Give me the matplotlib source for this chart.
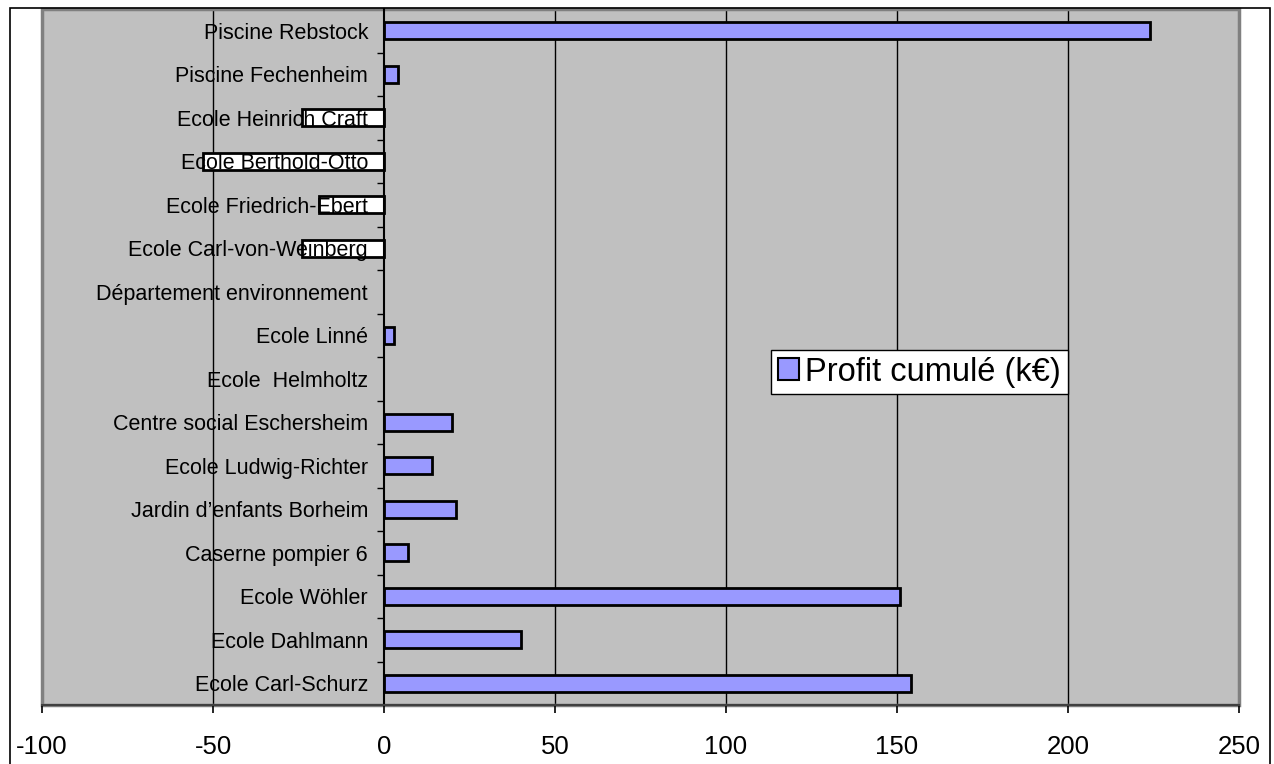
import numpy as np
import matplotlib.pyplot as plt
from matplotlib.patches import Rectangle

plt.rcParams['font.family'] = ['Liberation Sans', 'DejaVu Sans']

# Données (de bas en haut)
categories = [
    'Ecole Carl-Schurz', 'Ecole Dahlmann', 'Ecole Wöhler', 'Caserne pompier 6',
    'Jardin d\u2019enfants Borheim', 'Ecole Ludwig-Richter', 'Centre social Eschersheim',
    'Ecole  Helmholtz', 'Ecole Linné', 'Département environnement',
    'Ecole Carl-von-Weinberg', 'Ecole Friedrich-Ebert', 'Ecole Berthold-Otto',
    'Ecole Heinrich Craft', 'Piscine Fechenheim', 'Piscine Rebstock',
]
profit = [154, 40, 151, 7, 21, 14, 20, 0, 3, 0, -24, -19, -53, -24, 4, 224]
xticks = [-100, -50, 0, 50, 100, 150, 200, 250]
serie = 'Profit cumulé (k€)'

fig = plt.figure(figsize=(12.74, 7.64), dpi=100)
ax = fig.add_axes([42 / 1274, 1 - 705 / 764, (1239 - 42) / 1274, (705 - 9) / 764])
ax.set_facecolor('#C0C0C0')

y = np.arange(len(categories))
# Barres négatives en blanc (inverser si négatif), barres nulles sans contour
couleurs = ['white' if v < 0 else '#9999FF' for v in profit]
epaisseurs = [0 if v == 0 else 2 for v in profit]
barres = ax.barh(y, profit, height=0.4, color=couleurs, edgecolor='black',
                 linewidth=epaisseurs, zorder=1)

# Grille verticale derrière les barres
for xv in xticks[1:-1]:
    if xv != 0:
        ax.axvline(xv, color='black', linewidth=1, zorder=0.5)

ax.set_xlim(-100, 250)
ax.set_ylim(-0.5, len(categories) - 0.5)

# Axe des catégories placé en x = 0
ax.spines['left'].set_position(('data', 0))
ax.spines['left'].set_linewidth(1.5)
ax.spines['right'].set_visible(False)
ax.spines['top'].set_visible(False)
ax.spines['bottom'].set_color('#404040')
ax.spines['bottom'].set_linewidth(1.5)
ax.add_patch(Rectangle((0, 0), 1, 1, transform=ax.transAxes, fill=False,
                       edgecolor='#808080', linewidth=2.5, zorder=0.6, clip_on=False))

ax.set_yticks(y)
ax.set_yticklabels(categories, fontsize=15.5)
ax.set_yticks(np.arange(len(categories) - 1) + 0.5, minor=True)
ax.tick_params(axis='y', which='major', length=0, pad=11.5)
ax.tick_params(axis='y', which='minor', length=5, direction='out', width=1)

ax.set_xticks(xticks)
ax.set_xticklabels([str(v) for v in xticks], fontsize=18.5)
ax.tick_params(axis='x', length=6, width=1.2, direction='out', pad=15.5)

# Légende avec un carré de la couleur de la série
poignee = Rectangle((0, 0), 1, 1, facecolor='#9999FF', edgecolor='black', linewidth=1.5)
leg = ax.legend([poignee], [serie], loc='center', bbox_to_anchor=(0.733, 0.478), fontsize=23.5,
                frameon=True, fancybox=False, edgecolor='black', framealpha=1,
                handlelength=0.65, handleheight=0.65, handletextpad=0.2,
                borderpad=0.2, borderaxespad=0)
leg.get_frame().set_linewidth(1)

# Cadre du graphique
fig.patches.append(Rectangle((10 / 1274, -0.02), (1270 - 10) / 1274, 1 - 8 / 764 + 0.02,
                             transform=fig.transFigure, fill=False, edgecolor='black',
                             linewidth=1.2))

fig.savefig('out.png', dpi=100)
